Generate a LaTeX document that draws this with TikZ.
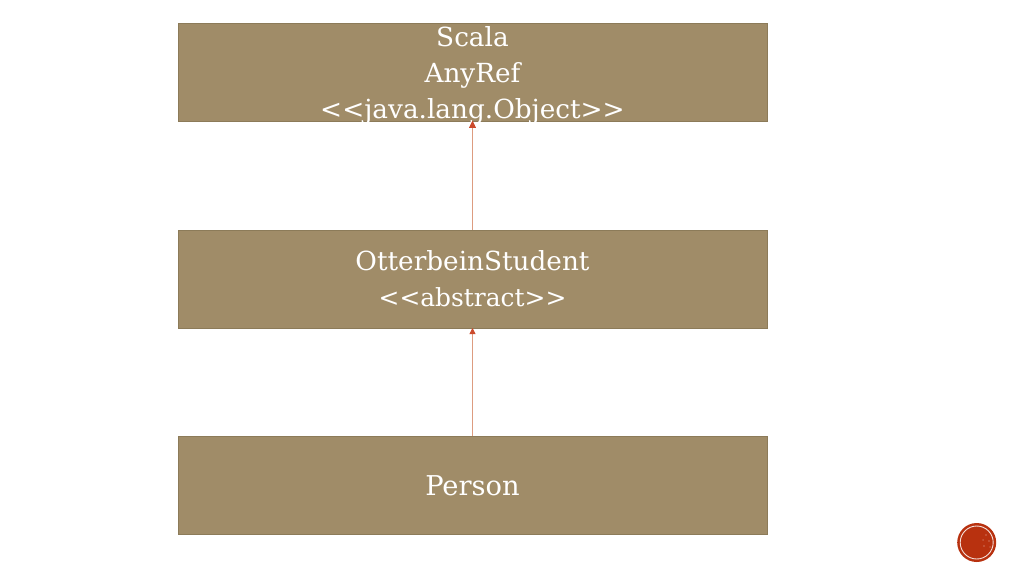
\documentclass[tikz,border=0pt]{standalone}
\usepackage{fontspec}
\setmainfont{DejaVu Serif}
\usetikzlibrary{arrows.meta}
\definecolor{boxfill}{HTML}{A08C68}
\definecolor{boxline}{HTML}{8C7B59}
\definecolor{arrowline}{HTML}{DD9C80}
\definecolor{arrowhead}{HTML}{CC4A2C}
\definecolor{badge}{HTML}{B8310F}
\tikzset{
  umlbox/.style={draw=boxline,line width=0.9pt,fill=boxfill,minimum width=589pt,minimum height=98pt,inner sep=0pt,outer sep=0pt},
  lbl/.style={text=white,font=\fontsize{26.3}{30}\selectfont,anchor=base,inner sep=0pt},
  link/.style={draw=arrowline,line width=0.9pt,-{Triangle[length=6pt,width=6pt,color=arrowhead]}}
}
\begin{document}
\begin{tikzpicture}[x=1pt,y=-1pt]
\useasboundingbox[fill=white] (0,0) rectangle (1024,576);
\node[umlbox] (top) at (472.5,72) {};
\node[umlbox] (mid) at (472.5,279) {};
\node[umlbox] (bot) at (472.5,485) {};
\draw[link] (mid.north) -- (top.south);
\draw[link] (bot.north) -- (mid.south);
\begin{scope}
\clip (178,23) rectangle (767,121);
\node[lbl] (t1) at (472.5,46.5) {Scala};
\node[lbl] (t2) at (472.5,82.5) {AnyRef};
\node[lbl] (t3) at (472.5,118.5) {<{}<java.lang.Object>{}>};
\end{scope}
\draw[arrowhead,line width=0pt,fill=arrowhead] (472.5,121) -- (469.7,127) -- (475.3,127) -- cycle;
\node[lbl] (m1) at (472.5,270.5) {OtterbeinStudent};
\node[lbl,font=\fontsize{24.9}{30}\selectfont] (m2) at (472.5,306.5) {<{}<abstract>{}>};
\node[lbl,font=\fontsize{27.3}{30}\selectfont] (b1) at (472.5,495.5) {Person};
\node[circle,fill=badge,minimum size=39pt,inner sep=0pt] (badge) at (976.7,542.5) {};
\draw[white!85!badge,line width=0.9pt] (badge.center) circle (16.5pt);
\fill[white!40!badge,opacity=0.5] (986,535) circle (1.2pt) (989,541) circle (1.2pt) (984,546) circle (1.2pt) (990,547) circle (1pt) (983,540) circle (1pt);
\end{tikzpicture}
\end{document}
